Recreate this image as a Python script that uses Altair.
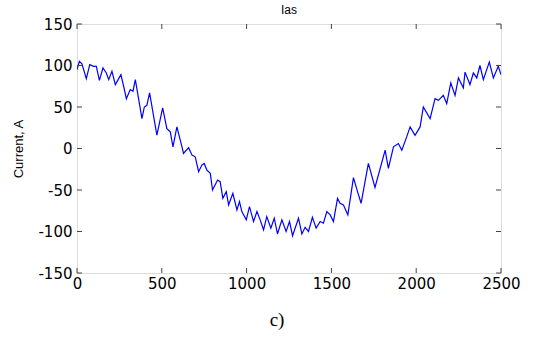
import altair as alt
import pandas as pd

# sample index (x) and current (A)
t_vals = [0, 14, 29, 55, 75, 98, 114, 132, 153, 173, 187, 206, 226, 259, 275, 291,
          314, 330, 344, 383, 397, 412, 428, 471, 505, 530, 550, 566, 589, 619, 628,
          658, 678, 697, 717, 736, 750, 766, 786, 799, 829, 844, 860, 880, 894, 919,
          943, 958, 972, 998, 1017, 1041, 1061, 1080, 1100, 1119, 1143, 1163, 1182,
          1208, 1233, 1253, 1271, 1306, 1326, 1345, 1365, 1388, 1410, 1434, 1453,
          1473, 1493, 1512, 1536, 1551, 1571, 1597, 1630, 1654, 1675, 1718, 1757,
          1817, 1836, 1866, 1895, 1915, 1944, 1964, 1993, 2023, 2042, 2082, 2111,
          2131, 2160, 2180, 2204, 2229, 2249, 2278, 2288, 2317, 2337, 2357, 2376,
          2396, 2431, 2455, 2484, 2500]
i_vals = [95, 105, 102, 84, 101, 99, 99, 82, 97, 91, 83, 93, 77, 89, 75, 60,
          71, 69, 83, 36, 50, 52, 67, 16, 49, 24, 20, 2, 26, 2, -6,
          1, -8, -10, -28, -20, -18, -26, -30, -50, -38, -40, -60, -52, -68, -54,
          -74, -64, -76, -86, -70, -88, -76, -86, -98, -82, -96, -84, -103,
          -86, -100, -88, -105, -84, -103, -95, -100, -83, -96, -88, -90,
          -76, -80, -88, -60, -66, -68, -80, -35, -52, -66, -18, -47,
          -2, -24, 2, 6, -2, 14, 26, 16, 26, 50, 36, 60,
          58, 64, 54, 79, 64, 85, 73, 92, 77, 91, 85, 100,
          83, 104, 85, 99, 89]

x_ticks = [0, 500, 1000, 1500, 2000, 2500]
y_ticks = [-150, -100, -50, 0, 50, 100, 150]

W, H = 424, 249
FONT = "DejaVu Sans"
LBL = "datum.value < 0 ? '-' + abs(datum.value) : '' + datum.value"

df = pd.DataFrame({"t": t_vals, "i": i_vals})
xt = pd.DataFrame({"x": x_ticks})
yt = pd.DataFrame({"y": y_ticks})

xs = alt.Scale(domain=[0, 2500], nice=False, zero=False)
ys = alt.Scale(domain=[-150, 150], nice=False, zero=False)

line = alt.Chart(df).mark_line(color="#0000ff", strokeWidth=1.2, clip=True).encode(
    x=alt.X("t:Q", scale=xs, axis=alt.Axis(values=x_ticks, title=None, ticks=False,
                                          labelFont=FONT, labelFontSize=15, labelColor="black",
                                          labelPadding=3, labelFlush=False, labelExpr=LBL,
                                          domain=False, grid=False)),
    y=alt.Y("i:Q", scale=ys, axis=alt.Axis(values=y_ticks, title="Current, A", ticks=False,
                                          labelFont=FONT, labelFontSize=15, labelColor="black",
                                          labelPadding=5, labelFlush=False, labelExpr=LBL,
                                          domain=False, grid=False,
                                          titleFont="Liberation Sans", titleFontSize=13,
                                          titleFontWeight="normal", titleColor="black",
                                          titlePadding=12)),
)

yl = alt.Chart(yt).mark_rule(color="#444444", strokeWidth=1).encode(
    y=alt.Y("y:Q", scale=ys), x=alt.value(0), x2=alt.value(5))
yr = alt.Chart(yt).mark_rule(color="#444444", strokeWidth=1).encode(
    y=alt.Y("y:Q", scale=ys), x=alt.value(W - 5), x2=alt.value(W))
xb = alt.Chart(xt).mark_rule(color="#444444", strokeWidth=1).encode(
    x=alt.X("x:Q", scale=xs), y=alt.value(H - 5), y2=alt.value(H))
xtop = alt.Chart(xt).mark_rule(color="#444444", strokeWidth=1).encode(
    x=alt.X("x:Q", scale=xs), y=alt.value(0), y2=alt.value(5))

title = alt.Chart(pd.DataFrame({"c": ["Ias"]})).mark_text(
    font="Liberation Sans", fontSize=12, color="black", clip=False, baseline="middle"
).encode(text="c:N", x=alt.value(W / 2), y=alt.value(-14))

caption = alt.Chart(pd.DataFrame({"c": ["c)"]})).mark_text(
    font="Liberation Serif", fontSize=19, color="black", clip=False
).encode(text="c:N", x=alt.value(200), y=alt.value(296))

chart = alt.layer(line, yl, yr, xb, xtop, title, caption).properties(
    width=W, height=H,
    autosize=alt.AutoSizeParams(type="none"),
    padding={"left": 77, "top": 24, "right": 48, "bottom": 74},
).configure_view(stroke="#333333", strokeWidth=1.2).configure(background="white")

chart.save("out.html", embed_options={"renderer": "svg", "actions": False})
